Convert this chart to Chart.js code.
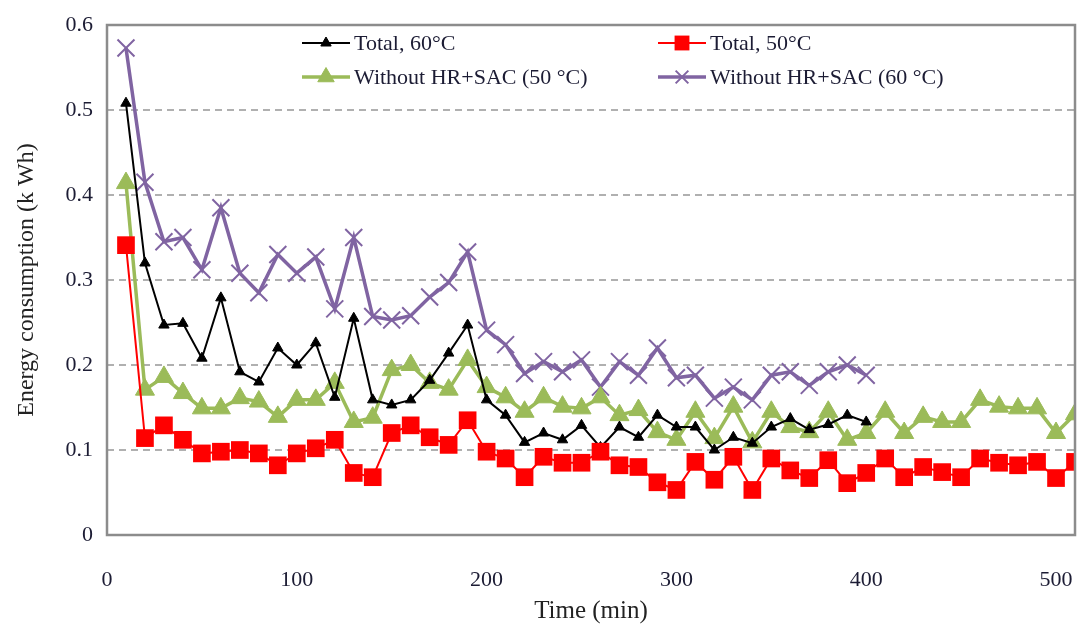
<!DOCTYPE html>
<html>
<head>
<meta charset="utf-8">
<script src="https://cdn.jsdelivr.net/npm/chart.js@4.4.0/dist/chart.umd.min.js"></script>
<style>
html,body{margin:0;padding:0;background:#fff;}
#wrap{width:1080px;height:626px;}
</style>
</head>
<body>
<div id="wrap"><canvas id="c" width="1080" height="626"></canvas></div>
<script>
const time60 = [10,20,30,40,50,60,70,80,90,100,110,120,130,140,150,160,170,180,190,200,210,220,230,240,250,260,270,280,290,300,310,320,330,340,350,360,370,380,390,400];
const time50 = [10,20,30,40,50,60,70,80,90,100,110,120,130,140,150,160,170,180,190,200,210,220,230,240,250,260,270,280,290,300,310,320,330,340,350,360,370,380,390,400,410,420,430,440,450,460,470,480,490,500,510];
const total60 = [0.508,0.32,0.247,0.249,0.208,0.279,0.192,0.18,0.22,0.2,0.226,0.162,0.255,0.159,0.153,0.159,0.182,0.214,0.247,0.159,0.141,0.109,0.12,0.112,0.129,0.103,0.127,0.115,0.141,0.127,0.127,0.1,0.115,0.108,0.127,0.137,0.124,0.13,0.141,0.133];
const total50 = [0.341,0.114,0.129,0.112,0.096,0.098,0.1,0.096,0.082,0.096,0.102,0.112,0.073,0.068,0.12,0.129,0.115,0.106,0.135,0.098,0.09,0.068,0.092,0.085,0.085,0.098,0.082,0.08,0.062,0.053,0.086,0.065,0.092,0.053,0.09,0.076,0.067,0.088,0.061,0.073,0.09,0.068,0.08,0.074,0.068,0.09,0.085,0.082,0.086,0.067,0.086];
const without50 = [0.414,0.171,0.186,0.167,0.149,0.149,0.161,0.157,0.139,0.159,0.159,0.179,0.133,0.138,0.194,0.2,0.179,0.171,0.206,0.174,0.162,0.145,0.162,0.151,0.149,0.162,0.141,0.147,0.121,0.112,0.145,0.114,0.151,0.109,0.145,0.127,0.121,0.145,0.112,0.12,0.145,0.12,0.139,0.133,0.133,0.159,0.151,0.149,0.149,0.12,0.142];
const without60 = [0.573,0.415,0.345,0.35,0.312,0.385,0.308,0.285,0.33,0.308,0.327,0.266,0.35,0.257,0.253,0.258,0.28,0.297,0.333,0.241,0.224,0.19,0.204,0.192,0.206,0.174,0.204,0.188,0.22,0.185,0.188,0.161,0.174,0.159,0.188,0.192,0.176,0.192,0.2,0.188];
const xTicks = [0,100,200,300,400,500];
const yTicks = [0,0.1,0.2,0.3,0.4,0.5,0.6];
const seriesNames = ['Total, 60°C','Total, 50°C','Without HR+SAC (50 °C)','Without HR+SAC (60 °C)'];

const toXY = (xs, ys) => ys.map((v, i) => ({x: xs[i], y: v}));
const FONT = '"Liberation Serif", "Times New Roman", serif';
const TXT = '#1c1c34';

const datasets = [
  {label: seriesNames[3], data: toXY(time60, without60), borderColor:'#8064a2', backgroundColor:'#8064a2', borderWidth:3.5, pointStyle:'crossRot', pointRadius:12, pointBorderWidth:2, order:4},
  {label: seriesNames[2], data: toXY(time50, without50), borderColor:'#9bbb59', backgroundColor:'#9bbb59', borderWidth:3.5, pointStyle:'triangle', pointRadius:11, pointBorderWidth:1, order:3},
  {label: seriesNames[0], data: toXY(time60, total60), borderColor:'#000000', backgroundColor:'#000000', borderWidth:2, pointStyle:'triangle', pointRadius:6, pointBorderWidth:1, order:2},
  {label: seriesNames[1], data: toXY(time50, total50), borderColor:'#ff0000', backgroundColor:'#ff0000', borderWidth:2, pointStyle:'rect', pointRadius:12.5, pointBorderWidth:0, order:1}
];

const framePlugin = {
  id:'frame',
  afterDraw(chart){
    const {ctx, chartArea:a} = chart;
    ctx.save();
    ctx.strokeStyle = '#8c8c8c';
    ctx.lineWidth = 2.5;
    ctx.strokeRect(a.left, a.top, a.right - a.left, a.bottom - a.top);
    ctx.restore();
  }
};

const legendPlugin = {
  id:'customLegend',
  afterDraw(chart){
    const ctx = chart.ctx;
    const items = [
      {ds: 2, x: 302, y: 43, r: 6},
      {ds: 3, x: 658, y: 43, r: 10.5},
      {ds: 1, x: 302, y: 77, r: 9.5},
      {ds: 0, x: 658, y: 77, r: 9}
    ];
    ctx.save();
    items.forEach(it => {
      const d = chart.data.datasets[it.ds];
      ctx.strokeStyle = d.borderColor;
      ctx.lineWidth = d.borderWidth;
      ctx.beginPath();
      ctx.moveTo(it.x, it.y);
      ctx.lineTo(it.x + 48, it.y);
      ctx.stroke();
      ctx.fillStyle = d.backgroundColor;
      ctx.strokeStyle = d.borderColor;
      ctx.lineWidth = d.pointBorderWidth || 0.01;
      Chart.helpers.drawPoint(ctx, {pointStyle: d.pointStyle, radius: it.r, borderWidth: d.pointBorderWidth || 0}, it.x + 24, it.y);
      ctx.fillStyle = TXT;
      ctx.font = '22px ' + FONT;
      ctx.textBaseline = 'middle';
      ctx.textAlign = 'left';
      ctx.fillText(d.label, it.x + 52, it.y + 1);
    });
    ctx.restore();
  }
};

Chart.defaults.font.family = FONT;

new Chart(document.getElementById('c'), {
  type:'line',
  data:{datasets},
  options:{
    responsive:false,
    animation:false,
    events:[],
    layout:{autoPadding:false, padding:{left:12, right:5, top:25, bottom:0}},
    plugins:{legend:{display:false}, tooltip:{enabled:false}},
    elements:{line:{tension:0}},
    scales:{
      x:{
        type:'linear', min:0, max:510,
        afterBuildTicks(s){ s.ticks = xTicks.map(v => ({value:v})); },
        afterFit(s){ s.height = 91; s.paddingLeft = 0; s.paddingRight = 0; },
        grid:{display:false, drawTicks:false},
        border:{display:false},
        ticks:{font:{size:22}, color:TXT, padding:32, maxRotation:0},
        title:{display:true, text:'Time (min)', font:{size:25}, color:'#222', padding:{top:0, bottom:0}}
      },
      y:{
        min:0, max:0.6,
        afterBuildTicks(s){ s.ticks = yTicks.map(v => ({value:v})); },
        afterFit(s){ s.width = 95; s.paddingTop = 0; s.paddingBottom = 0; },
        grid:{color:'#b0b0b0', lineWidth:2, drawTicks:false, tickLength:0},
        border:{display:false, dash:[7,5]},
        ticks:{font:{size:22}, color:TXT, padding:14, callback:v => String(Number(v.toFixed(1)))},
        title:{display:true, text:'Energy consumption (k Wh)', font:{size:24}, color:'#222', padding:{top:0, bottom:2}}
      }
    }
  },
  plugins:[framePlugin, legendPlugin]
});
</script>
</body>
</html>
